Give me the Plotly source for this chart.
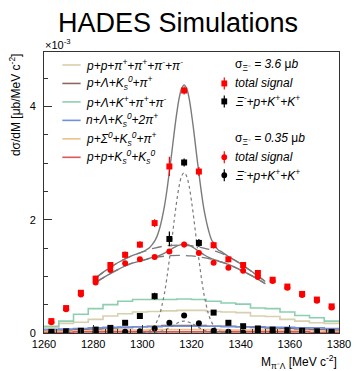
import plotly.graph_objects as go

# ---------------- data (units of 1e-3 ub/MeV c^-2) ----------------
mass_bins = [1263, 1269, 1275, 1281, 1287, 1293, 1299, 1305, 1311, 1317,
             1323, 1329, 1335, 1341, 1347, 1353, 1359, 1365, 1371, 1377]
bin_edges = [1260, 1266, 1272, 1278, 1284, 1290, 1296, 1302, 1308, 1314, 1320,
             1326, 1332, 1338, 1344, 1350, 1356, 1362, 1368, 1374, 1380]

total_sig_36 = [0.21, 0.44, 0.71, 0.96, 1.20, 1.38, 1.56, 1.94, 2.94, 4.28,
                2.85, 1.55, 1.30, 1.20, 1.06, 0.94, 0.82, 0.69, 0.59, 0.47]
total_sig_36_err = [0.03, 0.04, 0.05, 0.05, 0.05, 0.06, 0.06, 0.07, 0.17, 0.07,
                    0.08, 0.06, 0.05, 0.05, 0.05, 0.05, 0.04, 0.04, 0.04, 0.03]
xi_sig_36 = [0.02, 0.03, 0.04, 0.06, 0.09, 0.18, 0.30, 0.65, 1.66, 3.01,
             1.59, 0.36, 0.18, 0.12, 0.08, 0.06, 0.05, 0.04, 0.03, 0.02]
xi_sig_36_err = [0.02, 0.02, 0.02, 0.03, 0.03, 0.04, 0.04, 0.06, 0.13, 0.07,
                 0.07, 0.04, 0.04, 0.03, 0.03, 0.03, 0.02, 0.02, 0.02, 0.02]
total_sig_035 = [0.19, 0.42, 0.68, 0.89, 1.11, 1.23, 1.30, 1.34, 1.44, 1.56,
                 1.41, 1.24, 1.15, 1.10, 0.99, 0.92, 0.80, 0.67, 0.57, 0.45]
total_sig_035_err = [0.03, 0.03, 0.04, 0.04, 0.04, 0.04, 0.04, 0.04, 0.04, 0.05,
                     0.04, 0.04, 0.04, 0.04, 0.04, 0.04, 0.03, 0.03, 0.03, 0.03]
xi_sig_035 = [0.01, 0.01, 0.01, 0.01, 0.01, 0.02, 0.03, 0.08, 0.18, 0.31,
              0.17, 0.04, 0.02, 0.01, 0.01, 0.01, 0.01, 0.01, 0.01, 0.01]
xi_sig_035_err = [0.01] * 20

bg_pp4pi = [0.09, 0.17, 0.19, 0.24, 0.30, 0.34, 0.37, 0.38, 0.39, 0.40,
            0.40, 0.38, 0.37, 0.36, 0.30, 0.29, 0.24, 0.21, 0.18, 0.17]
bg_pLK0pi = [0.04, 0.05, 0.06, 0.07, 0.09, 0.10, 0.11, 0.12, 0.13, 0.13,
             0.13, 0.12, 0.12, 0.11, 0.10, 0.09, 0.08, 0.07, 0.06, 0.05]
bg_pLKpipi = [0.12, 0.21, 0.33, 0.43, 0.50, 0.56, 0.59, 0.59, 0.59, 0.60,
              0.59, 0.56, 0.53, 0.51, 0.44, 0.43, 0.37, 0.31, 0.27, 0.21]
bg_nLK02pi = [0.06, 0.07, 0.08, 0.09, 0.10, 0.10, 0.11, 0.11, 0.12, 0.12,
              0.12, 0.12, 0.11, 0.11, 0.11, 0.10, 0.10, 0.09, 0.09, 0.08]
bg_pSK0pi = [0.03, 0.03, 0.04, 0.04, 0.05, 0.05, 0.05, 0.06, 0.06, 0.06,
             0.06, 0.06, 0.05, 0.05, 0.05, 0.05, 0.04, 0.04, 0.04, 0.03]
bg_ppK0K0 = [0.01, 0.01, 0.02, 0.02, 0.02, 0.02, 0.02, 0.02, 0.02, 0.02,
             0.02, 0.02, 0.02, 0.02, 0.02, 0.02, 0.02, 0.02, 0.01, 0.01]

# fit curves
fitA_x = [1281, 1285, 1290, 1295, 1300, 1302, 1303, 1304, 1305, 1306, 1307, 1308,
          1309, 1310, 1311, 1312, 1313, 1314, 1315, 1316, 1317, 1318, 1319, 1320,
          1321, 1322, 1323, 1324, 1325, 1326, 1327, 1328, 1329, 1330, 1331, 1332,
          1335, 1340, 1345, 1350]
fitA_y = [0.97, 1.10, 1.24, 1.35, 1.43, 1.48, 1.51, 1.56, 1.62, 1.71, 1.84, 2.02,
          2.24, 2.52, 2.85, 3.19, 3.55, 3.88, 4.15, 4.32, 4.38, 4.32, 4.15, 3.87,
          3.54, 3.17, 2.82, 2.49, 2.20, 1.98, 1.80, 1.66, 1.58, 1.51, 1.46, 1.44,
          1.35, 1.22, 1.07, 0.91]
bkgA_x = [1281, 1285, 1290, 1295, 1300, 1305, 1310, 1315, 1320, 1325, 1330, 1335, 1340, 1345, 1350]
bkgA_y = [0.97, 1.10, 1.24, 1.35, 1.43, 1.50, 1.54, 1.55, 1.54, 1.50, 1.44, 1.35, 1.22, 1.07, 0.91]
sig_x = [1300, 1301, 1302, 1303, 1304, 1305, 1306, 1307, 1308, 1309, 1310, 1311,
         1312, 1313, 1314, 1315, 1316, 1317, 1318, 1319, 1320, 1321, 1322, 1323,
         1324, 1325, 1326, 1327, 1328, 1329, 1330, 1331, 1332, 1333, 1334]
sigA_y = [0.005, 0.01, 0.02, 0.04, 0.07, 0.13, 0.21, 0.32, 0.49, 0.70, 0.98, 1.30,
          1.64, 2.00, 2.33, 2.60, 2.77, 2.83, 2.77, 2.60, 2.33, 2.00, 1.64, 1.30,
          0.98, 0.70, 0.49, 0.32, 0.21, 0.13, 0.07, 0.04, 0.02, 0.01, 0.005]
fitB_x = [1281, 1285, 1290, 1295, 1300, 1303, 1305, 1307, 1309, 1311, 1313, 1315,
          1317, 1319, 1321, 1323, 1325, 1327, 1329, 1331, 1335, 1340, 1345, 1350]
fitB_y = [0.89, 1.00, 1.12, 1.22, 1.28, 1.32, 1.34, 1.37, 1.41, 1.46, 1.51, 1.55,
          1.57, 1.55, 1.50, 1.44, 1.385, 1.335, 1.30, 1.27, 1.21, 1.11, 1.00, 0.87]
bkgB_x = [1281, 1285, 1290, 1295, 1300, 1305, 1310, 1315, 1320, 1325, 1330, 1335, 1340, 1345, 1350]
bkgB_y = [0.89, 1.00, 1.12, 1.22, 1.28, 1.33, 1.36, 1.37, 1.36, 1.33, 1.28, 1.21, 1.11, 1.00, 0.87]
sigB_y = [0.0005, 0.001, 0.002, 0.003, 0.005, 0.009, 0.015, 0.024, 0.036, 0.052, 0.072, 0.095,
          0.12, 0.15, 0.17, 0.19, 0.205, 0.21, 0.205, 0.19, 0.17, 0.15, 0.12, 0.095,
          0.072, 0.052, 0.036, 0.024, 0.015, 0.009, 0.005, 0.003, 0.002, 0.001, 0.0005]

x_ticks = [1260, 1280, 1300, 1320, 1340, 1360, 1380]
y_ticks = [0, 2, 4]

bg_labels = [
    "<i>p+p+π<sup>+</sup>+π<sup>+</sup>+π<sup>-</sup>+π<sup>-</sup></i>",
    "<i>p+Λ+K<sub>s</sub><sup>0</sup>+π<sup>+</sup></i>",
    "<i>p+Λ+K<sup>+</sup>+π<sup>+</sup>+π<sup>-</sup></i>",
    "<i>n+Λ+K<sub>s</sub><sup>0</sup>+2π<sup>+</sup></i>",
    "<i>p+Σ<sup>0</sup>+K<sub>s</sub><sup>0</sup>+π<sup>+</sup></i>",
    "<i>p+p+K<sub>s</sub><sup>0</sup>+K<sub>s</sub><sup>0</sup></i>",
]
bg_series = [bg_pp4pi, bg_pLK0pi, bg_pLKpipi, bg_nLK02pi, bg_pSK0pi, bg_ppK0K0]
bg_colors = ["#d8cfae", "#8a6a5e", "#8ccfb0", "#6f8fe0", "#f0c088", "#d85a5a"]

FONT = "Liberation Sans, Arial, sans-serif"
fig = go.Figure()

# background histograms (step lines)
draw_order = [0, 2, 1, 3, 4, 5]
for i in draw_order:
    vals = bg_series[i]
    fig.add_trace(go.Scatter(x=bin_edges, y=vals + [vals[-1]], mode="lines",
                             line=dict(shape="hv", color=bg_colors[i], width=1.6),
                             hoverinfo="skip"))

GRAY = "#7a7a7a"
fig.add_trace(go.Scatter(x=sig_x, y=sigA_y, mode="lines",
                         line=dict(color=GRAY, width=1.2, dash="dot", shape="spline")))
fig.add_trace(go.Scatter(x=sig_x, y=sigB_y, mode="lines",
                         line=dict(color=GRAY, width=1.2, dash="dot", shape="spline")))
fig.add_trace(go.Scatter(x=bkgA_x, y=bkgA_y, mode="lines",
                         line=dict(color=GRAY, width=1.3, dash="10px,6px", shape="spline")))
fig.add_trace(go.Scatter(x=bkgB_x, y=bkgB_y, mode="lines",
                         line=dict(color=GRAY, width=1.3, dash="10px,6px", shape="spline")))
fig.add_trace(go.Scatter(x=fitA_x, y=fitA_y, mode="lines",
                         line=dict(color=GRAY, width=1.4, shape="spline")))
fig.add_trace(go.Scatter(x=fitB_x, y=fitB_y, mode="lines",
                         line=dict(color=GRAY, width=1.4, shape="spline")))

def pts(y, err, color, symbol):
    return go.Scatter(x=mass_bins, y=y, mode="markers",
                      marker=dict(color=color, symbol=symbol, size=6, line=dict(width=0)),
                      error_y=dict(type="data", array=err, color=color, thickness=1.2, width=0))

fig.add_trace(pts(xi_sig_035, xi_sig_035_err, "black", "circle"))
fig.add_trace(pts(xi_sig_36, xi_sig_36_err, "black", "square"))
fig.add_trace(pts(total_sig_035, total_sig_035_err, "#ff0000", "circle"))
fig.add_trace(pts(total_sig_36, total_sig_36_err, "#ff0000", "square"))

# The page body has an 8px margin, so the figure is drawn 8px smaller and
# all reference-pixel positions below are given in window coordinates.
OFF = 8
W, H = 363 - OFF, 371 - OFF
L, R, T, B = 44, 350, 52, 333.5          # plot frame in window pixels
def px(xp):
    return (xp - L) / (R - L)
def py(yp):
    return (B - yp) / (B - T)

ann = []
shapes = []
ann.append(dict(text="HADES Simulations", x=px(183), y=py(23), xref="paper", yref="paper",
                showarrow=False, xanchor="center", yanchor="middle",
                font=dict(family=FONT, size=27, color="black")))
ann.append(dict(text="×10<sup>-3</sup>", x=px(43), y=py(44), xref="paper", yref="paper",
                showarrow=False, xanchor="left", yanchor="middle",
                font=dict(family=FONT, size=11, color="black")))
ann.append(dict(text="dσ/dM [μb/MeV c<sup>-2</sup>]", x=px(14), y=1.0, xref="paper", yref="paper",
                showarrow=False, xanchor="center", yanchor="top", textangle=-90,
                font=dict(family=FONT, size=12, color="black")))
ann.append(dict(text="M<sub>π⁻Λ</sub> [MeV c<sup>-2</sup>]", x=1.0, y=py(362.5), xref="paper", yref="paper",
                showarrow=False, xanchor="right", yanchor="middle",
                font=dict(family=FONT, size=12, color="black")))

rows = [65, 83.5, 102, 120.5, 139, 157.5]
for i, yr in enumerate(rows):
    shapes.append(dict(type="line", xref="paper", yref="paper", x0=px(63), x1=px(82),
                       y0=py(yr), y1=py(yr), line=dict(color=bg_colors[i], width=1.6)))
    ann.append(dict(text=bg_labels[i], x=px(86), y=py(yr), xref="paper", yref="paper",
                    showarrow=False, xanchor="left", yanchor="middle",
                    font=dict(family=FONT, size=12, color="black")))

right_rows = [
    (65, "σ<sub>Ξ⁻</sub> <i>= 3.6</i> μ<i>b</i>", None, None),
    (83.5, "<i>total signal</i>", "#ff0000", "square"),
    (101.5, "<i>Ξ<sup>-</sup>+p+K<sup>+</sup>+K<sup>+</sup></i>", "black", "square"),
    (139, "σ<sub>Ξ⁻</sub> <i>= 0.35</i> μ<i>b</i>", None, None),
    (157.5, "<i>total signal</i>", "#ff0000", "circle"),
    (175.5, "<i>Ξ<sup>-</sup>+p+K<sup>+</sup>+K<sup>+</sup></i>", "black", "circle"),
]
for yr, txt, col, sym in right_rows:
    ann.append(dict(text=txt, x=px(240), y=py(yr), xref="paper", yref="paper",
                    showarrow=False, xanchor="left", yanchor="middle",
                    font=dict(family=FONT, size=12, color="black")))
    if col:
        shapes.append(dict(type="line", xref="paper", yref="paper", x0=px(231), x1=px(231),
                           y0=py(yr - 6), y1=py(yr + 6), line=dict(color=col, width=1.2)))
        shapes.append(dict(type="rect" if sym == "square" else "circle", xref="paper", yref="paper",
                           x0=px(228), x1=px(234), y0=py(yr - 3), y1=py(yr + 3),
                           fillcolor=col, line=dict(width=0)))

fig.update_layout(
    width=W, height=H,
    margin=dict(l=L - OFF, r=W - (R - OFF), t=T - OFF, b=H - (B - OFF), pad=0),
    paper_bgcolor="white", plot_bgcolor="white",
    showlegend=False,
    annotations=ann, shapes=shapes,
    font=dict(family=FONT, color="black"),
    xaxis=dict(range=[1260, 1380], tickmode="array", tickvals=x_ticks,
               ticks="inside", ticklen=8, tickwidth=1, tickcolor="#333",
               minor=dict(tickmode="linear", tick0=1260, dtick=5, ticks="inside", ticklen=4, tickcolor="#333"),
               showline=True, linecolor="#333", linewidth=1, mirror=True,
               showgrid=False, zeroline=False, ticklabelstandoff=1,
               tickfont=dict(size=11, family=FONT)),
    yaxis=dict(range=[0, 4.96], tickmode="array", tickvals=y_ticks,
               ticks="inside", ticklen=8, tickwidth=1, tickcolor="#333",
               minor=dict(tickmode="linear", tick0=0, dtick=0.5, ticks="inside", ticklen=4, tickcolor="#333"),
               showline=True, linecolor="#333", linewidth=1, mirror=True,
               showgrid=False, zeroline=False, ticklabelstandoff=5,
               tickfont=dict(size=11, family=FONT)),
)

fig.write_html("out.html")
